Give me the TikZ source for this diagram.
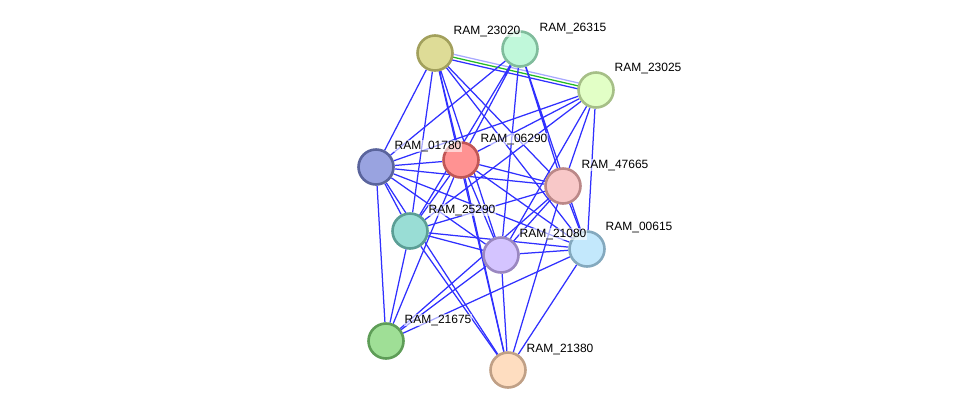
\documentclass[tikz,border=0pt]{standalone}
\usepackage{fontspec}
\setmainfont{Liberation Sans}
\usetikzlibrary{positioning, backgrounds}
\definecolor{linkblue}{HTML}{3030FF}
\definecolor{linkgreen}{HTML}{22BB22}
\definecolor{linklav}{HTML}{A8A8FF}
\definecolor{fillA}{HTML}{DEDC97}\definecolor{rimA}{HTML}{A2A05C}
\definecolor{fillB}{HTML}{C0F8DA}\definecolor{rimB}{HTML}{80BC9C}
\definecolor{fillC}{HTML}{E2FFC6}\definecolor{rimC}{HTML}{A6BF87}
\definecolor{fillD}{HTML}{FF9292}\definecolor{rimD}{HTML}{C05656}
\definecolor{fillE}{HTML}{99A3E0}\definecolor{rimE}{HTML}{5A649C}
\definecolor{fillF}{HTML}{F8C8C8}\definecolor{rimF}{HTML}{BB8888}
\definecolor{fillG}{HTML}{99DDD5}\definecolor{rimG}{HTML}{5B9E95}
\definecolor{fillH}{HTML}{D4C4FF}\definecolor{rimH}{HTML}{9A87C0}
\definecolor{fillI}{HTML}{C3E8FC}\definecolor{rimI}{HTML}{84A9BE}
\definecolor{fillJ}{HTML}{9FDF96}\definecolor{rimJ}{HTML}{5E9D57}
\definecolor{fillK}{HTML}{FEDDC0}\definecolor{rimK}{HTML}{C0A086}

\begin{document}
\begin{tikzpicture}[x=1pt, y=-1pt,
    prot/.style={circle, minimum size=35pt, inner sep=0pt, line width=2.6pt},
    link/.style={linkblue, line width=1.25pt},
    lbl/.style={anchor=west, inner sep=0.5pt, fill=white, fill opacity=0.6, text opacity=1, font=\fontsize{12}{13}\selectfont},
  ]
  \useasboundingbox (0,0) rectangle (976,416);

  \node[prot, fill=fillA, draw=rimA] (n23020) at (435,53) {};
  \node[prot, fill=fillB, draw=rimB] (n26315) at (520,49) {};
  \node[prot, fill=fillC, draw=rimC] (n23025) at (596,90) {};
  \node[prot, fill=fillD, draw=rimD] (n06290) at (461,160) {};
  \node[prot, fill=fillE, draw=rimE] (n01780) at (376,167) {};
  \node[prot, fill=fillF, draw=rimF] (n47665) at (563,186) {};
  \node[prot, fill=fillG, draw=rimG] (n25290) at (410,231) {};
  \node[prot, fill=fillH, draw=rimH] (n21080) at (501,255) {};
  \node[prot, fill=fillI, draw=rimI] (n00615) at (587,249) {};
  \node[prot, fill=fillJ, draw=rimJ] (n21675) at (386,341) {};
  \node[prot, fill=fillK, draw=rimK] (n21380) at (508,370) {};

  \begin{scope}[on background layer]
  % three evidence lines between the two top neighbours
  \draw[linklav, line width=1.25pt] ([yshift=3pt]n23020.center) -- ([yshift=3pt]n23025.center);
  \draw[linkgreen, line width=1.25pt] (n23020.center) -- (n23025.center);
  \draw[link] ([yshift=-3pt]n23020.center) -- ([yshift=-3pt]n23025.center);

  \draw[link] (n23020) -- (n01780) (n23020) -- (n25290) (n23020) -- (n06290) (n23020) -- (n21080);
  \draw[link] (n23020) -- (n47665) (n23020) -- (n00615) (n23020) -- (n21380);
  \draw[link] (n26315) -- (n01780) (n26315) -- (n06290) (n26315) -- (n25290) (n26315) -- (n21080);
  \draw[link] (n26315) -- (n47665) (n26315) -- (n00615);
  \draw[link] (n23025) -- (n01780) (n23025) -- (n06290) (n23025) -- (n25290) (n23025) -- (n21080);
  \draw[link] (n23025) -- (n47665) (n23025) -- (n00615);
  \draw[link] (n06290) -- (n01780) (n06290) -- (n47665) (n06290) -- (n25290) (n06290) -- (n21080);
  \draw[link] (n06290) -- (n00615) (n06290) -- (n21675) (n06290) -- (n21380);
  \draw[link] (n01780) -- (n47665) (n01780) -- (n25290) (n01780) -- (n21080) (n01780) -- (n00615);
  \draw[link] (n01780) -- (n21675) (n01780) -- (n21380);
  \draw[link] (n47665) -- (n25290) (n47665) -- (n21080) (n47665) -- (n00615) (n47665) -- (n21675);
  \draw[link] (n47665) -- (n21380);
  \draw[link] (n25290) -- (n21080) (n25290) -- (n00615) (n25290) -- (n21675) (n25290) -- (n21380);
  \draw[link] (n21080) -- (n00615) (n21080) -- (n21675) (n21080) -- (n21380);
  \draw[link] (n00615) -- (n21675) (n00615) -- (n21380);
  \end{scope}

  \node[lbl] (l23020) at (453,31) {RAM\_23020};
  \node[lbl] (l26315) at (539,28) {RAM\_26315};
  \node[lbl] (l23025) at (614,68) {RAM\_23025};
  \node[lbl] (l06290) at (480,139) {RAM\_06290};
  \node[lbl] (l01780) at (394,146) {RAM\_01780};
  \node[lbl] (l47665) at (581,165) {RAM\_47665};
  \node[lbl] (l25290) at (428,210) {RAM\_25290};
  \node[lbl] (l21080) at (519,234) {RAM\_21080};
  \node[lbl] (l00615) at (605,227) {RAM\_00615};
  \node[lbl] (l21675) at (404,320) {RAM\_21675};
  \node[lbl] (l21380) at (526,349) {RAM\_21380};
\end{tikzpicture}
\end{document}
